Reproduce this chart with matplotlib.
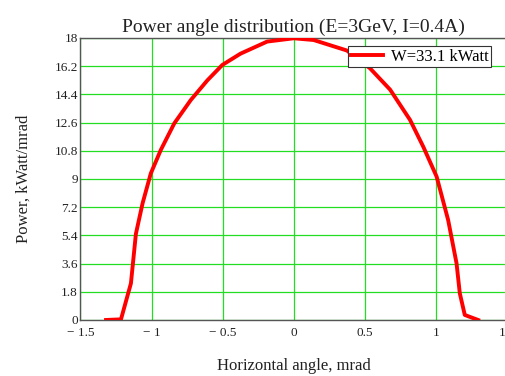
import matplotlib
matplotlib.use('Agg')
import matplotlib.pyplot as plt

# curve
angle = [-1.32, -1.215, -1.145, -1.11, -1.063, -1.005, -0.935, -0.84, -0.724, -0.607,
         -0.502, -0.374, -0.187, 0.0, 0.14, 0.374, 0.537, 0.678, 0.818, 0.911,
         1.005, 1.086, 1.145, 1.168, 1.203, 1.297]
power = [0.0, 0.04, 2.34, 5.5, 7.45, 9.36, 10.85, 12.55, 14.04, 15.3,
         16.28, 17.0, 17.77, 17.98, 17.87, 17.2, 16.06, 14.7, 12.77, 11.06,
         9.15, 6.38, 3.62, 1.7, 0.32, 0.0]
xticks = [-1.5, -1, -0.5, 0, 0.5, 1, 1.5]
xtick_labels = ['\u2212 1.5', '\u2212 1', '\u2212 0.5', '0', '0.5', '1', '1.5']
yticks = [0, 1.8, 3.6, 5.4, 7.2, 9, 10.8, 12.6, 14.4, 16.2, 18]
ytick_labels = ['0', '1.8', '3.6', '5.4', '7.2', '9', '10.8', '12.6', '14.4', '16.2', '18']

plt.rcParams['font.family'] = ['Liberation Serif', 'DejaVu Serif']

fig = plt.figure(figsize=(5.06, 3.76), dpi=100)
ax = fig.add_axes([0.159, 0.149, 0.843, 0.75])

ax.plot(angle, power, color='#ff0000', lw=2.8, solid_joinstyle='round',
        label='W=33.1 kWatt', zorder=3)

ax.set_xlim(-1.5, 1.5)
ax.set_ylim(0, 18)
ax.set_xticks(xticks)
ax.set_xticklabels(xtick_labels)
ax.set_yticks(yticks)
ax.set_yticklabels(ytick_labels)
ax.tick_params(length=0, labelsize=9.5, colors='#222222')
ax.tick_params(axis='x', pad=5)
ax.tick_params(axis='y', pad=2)
ax.grid(True, color='#22dd22', lw=0.9)

for side in ['left', 'top', 'bottom', 'right']:
    ax.spines[side].set_color('#555555')
    ax.spines[side].set_linewidth(1.0)

ax.set_title('Power angle distribution (E=3GeV, I=0.4A)', fontsize=14, pad=4, color='#222222')
ax.set_xlabel('Horizontal angle, mrad', fontsize=12, labelpad=14, color='#222222')
ax.set_ylabel('Power, kWatt/mrad', fontsize=12, labelpad=16, color='#222222')

leg = ax.legend(loc='upper right', bbox_to_anchor=(0.963, 0.97), fontsize=12,
                fancybox=False, framealpha=1, edgecolor='#333333',
                handlelength=1.9, borderpad=0.15, handletextpad=0.5, borderaxespad=0)
leg.get_frame().set_linewidth(0.8)

fig.savefig('out.png', dpi=100)
